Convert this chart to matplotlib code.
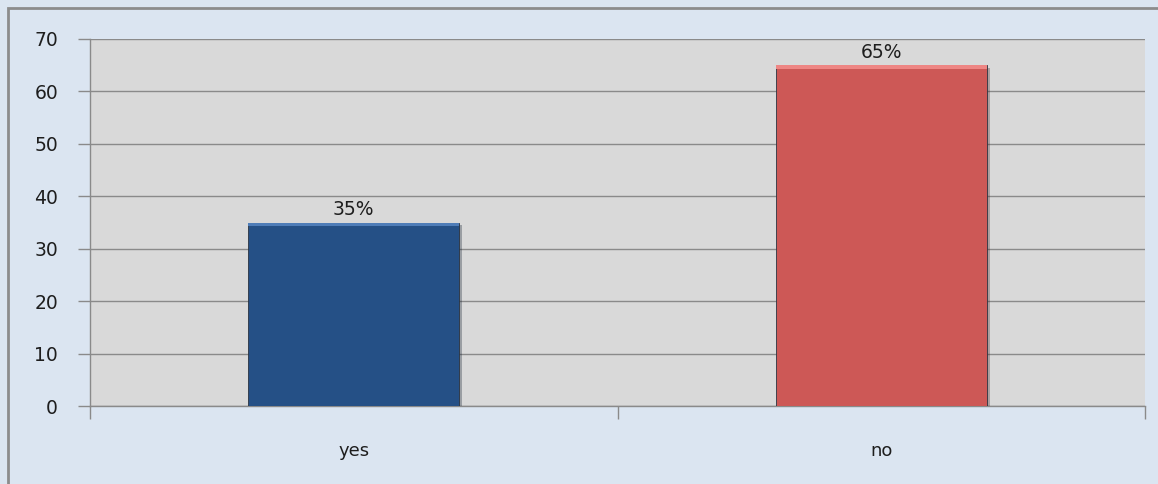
import matplotlib.pyplot as plt
import matplotlib.patches as mpatches
import matplotlib.patheffects as pe
import numpy as np

categories = ["yes", "no"]
values = [35, 65]
labels = ["35%", "65%"]
colors = ["#255086", "#CD5856"]
tops = ["#4F7DB8", "#EE8684"]

fig = plt.figure(figsize=(11.58, 4.84), dpi=100)
fig.patch.set_facecolor("#DBE5F1")

# outer chart border (cut off at right and bottom like the original)
fig.patches.append(mpatches.Rectangle((8 / 1158, -0.02), 1.1, 1 - 8 / 484 + 0.02,
                                      transform=fig.transFigure, fill=False,
                                      edgecolor="#8C8C8C", linewidth=2))

ax = fig.add_axes([90 / 1158, 1 - 406 / 484, (1145 - 90) / 1158, (406 - 39) / 484])
ax.set_facecolor("#D9D9D9")

x = np.arange(len(categories))
bars = ax.bar(x, values, width=0.40, color=colors, edgecolor="#2A3340", linewidth=0.6, zorder=3)
for b in bars:
    b.set_path_effects([pe.SimplePatchShadow(offset=(2, -2), alpha=0.3), pe.Normal()])
# light top bevel
ax.bar(x, [0.7] * len(values), bottom=[v - 0.7 for v in values], width=0.40,
       color=tops, linewidth=0, zorder=4)

for xi, v, lab in zip(x, values, labels):
    ax.text(xi, v + 0.6, lab, ha="center", va="bottom", fontsize=13.5, color="#1E1E1E", zorder=5)

ax.set_xlim(-0.5, 1.5)
ax.set_ylim(0, 70)
ax.set_yticks(range(0, 71, 10))
ax.set_xticks([-0.5, 0.5, 1.5], minor=False)
ax.set_xticklabels([])
ax.set_xticks(x, minor=True)
ax.set_xticklabels(categories, minor=True)
ax.tick_params(axis="x", which="minor", length=0, pad=26, labelsize=13, labelcolor="#1E1E1E")
ax.tick_params(axis="x", which="major", length=9, color="#8A8A8A", width=1.0)
ax.tick_params(axis="y", length=9, color="#8A8A8A", width=1.0, pad=14, labelsize=13.5, labelcolor="#1E1E1E")

ax.grid(axis="y", color="#8A8A8A", linewidth=1.0, zorder=0)
ax.set_axisbelow(True)
for s in ["top", "right"]:
    ax.spines[s].set_visible(False)
for s in ["left", "bottom"]:
    ax.spines[s].set_color("#8A8A8A")
    ax.spines[s].set_linewidth(1.0)

fig.savefig("out.png", dpi=100, facecolor=fig.get_facecolor())
